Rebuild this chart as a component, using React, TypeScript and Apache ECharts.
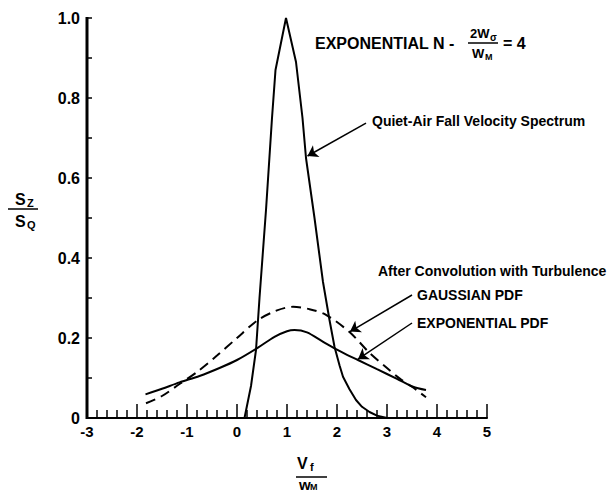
import React, { useEffect, useRef } from 'react';
import * as echarts from 'echarts';

// Quiet-air fall velocity spectrum (solid spike)
const quietX = [0.1, 0.15, 0.28, 0.38, 0.45, 0.58, 0.7, 0.77, 0.98, 1.18, 1.31, 1.38, 1.55, 1.72, 1.85, 1.95, 2.05, 2.12, 2.25, 2.38, 2.5, 2.65, 2.8, 3.0];
const quietY = [0, 0, 0.08, 0.17, 0.3, 0.52, 0.75, 0.87, 1.0, 0.89, 0.75, 0.65, 0.5, 0.34, 0.245, 0.178, 0.132, 0.103, 0.072, 0.045, 0.028, 0.015, 0.006, 0];

// After convolution: Gaussian PDF (dashed)
const gaussX = [-1.82, -1.5, -1.15, -0.8, -0.4, 0, 0.42, 0.8, 1.12, 1.45, 1.78, 2.25, 2.65, 3.0, 3.25, 3.5, 3.78];
const gaussY = [0.037, 0.055, 0.085, 0.115, 0.156, 0.2, 0.245, 0.269, 0.278, 0.272, 0.258, 0.215, 0.163, 0.125, 0.099, 0.078, 0.052];

// After convolution: Exponential PDF (solid)
const expX = [-1.83, -1.5, -1.15, -0.75, -0.35, 0, 0.42, 0.75, 1.0, 1.15, 1.4, 1.7, 1.95, 2.2, 2.42, 2.8, 3.2, 3.52, 3.78];
const expY = [0.059, 0.073, 0.089, 0.105, 0.125, 0.145, 0.176, 0.203, 0.217, 0.22, 0.214, 0.192, 0.174, 0.158, 0.145, 0.122, 0.098, 0.078, 0.07];

const xTicks = { min: -3, max: 5, step: 1 };
const yTicks = { min: 0, max: 1, step: 0.2 };

const FONT = '"Liberation Sans", Arial, Helvetica, sans-serif';

const pairs = (xs: number[], ys: number[]) => xs.map((x, i) => [x, ys[i]]);

export default function App() {
  const ref = useRef<HTMLDivElement>(null);
  useEffect(() => {
    const chart = echarts.init(ref.current!, null, { renderer: 'svg' });
    const txt = (text: string, x: number, y: number, size: number, weight = 'bold') => ({
      type: 'text',
      x,
      y,
      style: { text, font: `${weight} ${size}px ${FONT}`, fill: '#000', align: 'left', verticalAlign: 'middle' },
    });
    const ln = (x1: number, y1: number, x2: number, y2: number, w = 1.5) => ({
      type: 'line',
      shape: { x1, y1, x2, y2 },
      style: { stroke: '#000', lineWidth: w },
    });
    chart.setOption({
      animation: false,
      backgroundColor: '#fff',
      grid: { left: 87, right: 124, top: 18, bottom: 75 },
      xAxis: {
        type: 'value',
        min: xTicks.min,
        max: xTicks.max,
        interval: xTicks.step,
        axisLine: { show: true, lineStyle: { color: '#000', width: 2 } },
        axisTick: { inside: true, length: 14, lineStyle: { color: '#000', width: 1.5 } },
        minorTick: { show: true, splitNumber: 5, length: 8, lineStyle: { color: '#000', width: 1.5 } },
        splitLine: { show: false },
        axisLabel: { color: '#000', fontFamily: FONT, fontWeight: 'bold', fontSize: 15, margin: 6 },
      },
      yAxis: {
        type: 'value',
        position: 'left',
        min: yTicks.min,
        max: yTicks.max,
        interval: yTicks.step,
        axisLine: { show: true, onZero: false, lineStyle: { color: '#000', width: 2 } },
        axisTick: { show: true, inside: true, length: 5, lineStyle: { color: '#000', width: 1.5 } },
        minorTick: { show: true, splitNumber: 2, length: 5, lineStyle: { color: '#000', width: 1.5 } },
        splitLine: { show: false },
        axisLabel: {
          color: '#000',
          fontFamily: FONT,
          fontWeight: 'bold',
          fontSize: 16,
          margin: 7,
          formatter: (v: number) => (v === 0 ? '0' : v.toFixed(1)),
        },
      },
      series: [
        {
          type: 'line',
          data: pairs(quietX, quietY),
          showSymbol: false,
          lineStyle: { color: '#000', width: 2 },
        },
        {
          type: 'line',
          data: pairs(gaussX, gaussY),
          showSymbol: false,
          smooth: 0.3,
          lineStyle: { color: '#000', width: 2, type: [10, 6] },
        },
        {
          type: 'line',
          data: pairs(expX, expY),
          showSymbol: false,
          smooth: 0.3,
          lineStyle: { color: '#000', width: 2 },
        },
        {
          type: 'line',
          data: [],
          markLine: {
            silent: true,
            symbol: ['none', 'arrow'],
            symbolSize: 10,
            label: { show: false },
            lineStyle: { color: '#000', width: 1.5, type: 'solid' },
            data: [
              [{ coord: [2.58, 0.737] }, { coord: [1.41, 0.655] }],
              [{ coord: [3.5, 0.3075] }, { coord: [2.26, 0.216] }],
              [{ coord: [3.5, 0.2375] }, { coord: [2.42, 0.147] }],
            ],
          },
        },
      ],
      graphic: [
        { type: 'rect', shape: { x: 85.5, y: 17, width: 3, height: 402 }, style: { fill: '#000' }, z: 100 },
        txt('EXPONENTIAL N -', 315, 43, 16),
        txt('2W', 470, 33, 13),
        txt('σ', 490, 37, 10),
        ln(468, 43, 498, 43),
        txt('W', 472, 53, 13),
        txt('M', 485, 57, 9),
        txt('= 4', 503, 43, 16),
        txt('Quiet-Air Fall Velocity Spectrum', 372, 121, 14),
        txt('After Convolution with Turbulence', 378, 271, 14),
        txt('GAUSSIAN PDF', 417, 295, 14),
        txt('EXPONENTIAL PDF', 417, 323, 14),
        txt('S', 15, 199, 16),
        txt('Z', 27, 203, 11),
        ln(8, 209, 38, 209),
        txt('S', 15, 221, 16),
        txt('Q', 27, 225, 11),
        txt('V', 297, 463, 16),
        txt('f', 310, 467, 11),
        ln(296, 477, 327, 477),
        txt('w', 299, 484, 15),
        txt('M', 310, 487, 9),
      ],
    });
    return () => chart.dispose();
  }, []);
  return <div ref={ref} style={{ position: 'fixed', left: 0, top: 0, width: 611, height: 493 }} />;
}
